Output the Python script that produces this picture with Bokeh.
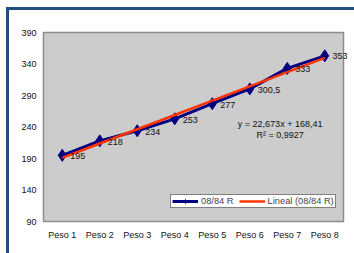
import numpy as np
from bokeh.plotting import figure
from bokeh.models import (FactorRange, Range1d, FixedTicker, Legend, LegendItem, Label,
                          ColumnDataSource, LinearAxis)
from bokeh.embed import file_html
from bokeh.resources import INLINE

categories = ["Peso 1", "Peso 2", "Peso 3", "Peso 4", "Peso 5", "Peso 6", "Peso 7", "Peso 8"]
series_values = [195, 218, 234, 253, 277, 300.5, 333, 353]
y_ticks = [90, 140, 190, 240, 290, 340, 390]
series_name = "08/84 R"
trend_name = "Lineal (08/84 R)"

FONT = "Liberation Sans"
NAVY = "#000080"
RED = "#FF3300"
BORDER = "#1F4E7E"
TXT = "#111111"

idx = np.arange(1, len(series_values) + 1)
slope, intercept = np.polyfit(idx, series_values, 1)
fit = slope * idx + intercept
ss_res = np.sum((np.array(series_values) - fit) ** 2)
ss_tot = np.sum((np.array(series_values) - np.mean(series_values)) ** 2)
r2 = 1 - ss_res / ss_tot

def fmt(v, d):
    return f"{v:.{d}f}".replace(".", ",")

labels = [str(v).replace(".", ",") if v != int(v) else str(int(v)) for v in series_values]

src = ColumnDataSource(dict(x=categories, y=series_values, lab=labels, fit=fit))

p = figure(x_range=FactorRange(*categories, range_padding=0),
           y_range=Range1d(y_ticks[0], y_ticks[-1]),
           width=354, height=253, output_backend="svg", toolbar_location=None,
           min_border_left=43, min_border_right=11, min_border_top=32, min_border_bottom=32,
           styles={"box-shadow": f"inset 6px 7px 0 0 white, inset 9px 10px 0 0 {BORDER}"})

p.background_fill_color = "#CCCCCC"
p.border_fill_color = None
p.outline_line_color = "#8C8C8C"
p.outline_line_width = 1.5
p.xgrid.visible = False
p.ygrid.visible = False

def style_axis(ax, size="9px"):
    ax.axis_line_color = None
    ax.major_tick_line_color = None
    ax.minor_tick_line_color = None
    ax.major_tick_out = 0
    ax.major_tick_in = 0
    ax.minor_tick_out = 0
    ax.minor_tick_in = 0
    ax.major_label_text_font = FONT
    ax.major_label_text_font_size = size
    ax.major_label_text_color = TXT

for ax in (p.xaxis, p.yaxis):
    style_axis(ax)
p.yaxis.ticker = FixedTicker(ticks=y_ticks)
p.yaxis.major_label_standoff = 7
p.xaxis.major_label_standoff = 8

l1 = p.line("x", "y", source=src, line_color=NAVY, line_width=3)
s1 = p.scatter("x", "y", source=src, marker="diamond", size=12, fill_color=NAVY, line_color=NAVY)
l2 = p.line("x", "fit", source=src, line_color=RED, line_width=2.5)

# data labels (synthetic categorical coordinate: factor i sits at i + 0.5)
for i, (val, lab) in enumerate(zip(series_values[:-1], labels[:-1])):
    p.add_layout(Label(x=i + 0.5, y=val, text=lab, x_offset=8, y_offset=-1,
                       text_align="left", text_baseline="middle",
                       text_font=FONT, text_font_size="9px", text_color=TXT))

# the last data label runs past the plot area edge, so it is drawn by an
# unclipped right-hand axis with a single tick at the last value
last_axis = LinearAxis(ticker=FixedTicker(ticks=[series_values[-1]]),
                       major_label_overrides={series_values[-1]: labels[-1]})
style_axis(last_axis)
last_axis.major_label_standoff = -11
p.add_layout(last_axis, "right")

eq = Label(x=6.31, y=245, text=f"y = {fmt(slope, 3)}x + {fmt(intercept, 2)}",
           text_align="center", text_baseline="middle",
           text_font=FONT, text_font_size="9px", text_color=TXT)
r2l = Label(x=6.31, y=227, text=f"R² = {fmt(r2, 4)}",
            text_align="center", text_baseline="middle",
            text_font=FONT, text_font_size="9px", text_color=TXT)
p.add_layout(eq)
p.add_layout(r2l)

legend = Legend(items=[LegendItem(label=series_name, renderers=[l1, s1]),
                       LegendItem(label=trend_name, renderers=[l2])],
                orientation="horizontal", location=(127, 13),
                glyph_width=26, glyph_height=10, label_height=10,
                label_text_font=FONT, label_text_font_size="9.3px",
                padding=1, margin=0, spacing=5, label_standoff=3,
                border_line_color="black", border_line_width=1,
                background_fill_color="white", background_fill_alpha=1)
p.add_layout(legend)

open("out.html", "w").write(file_html(p, INLINE))
